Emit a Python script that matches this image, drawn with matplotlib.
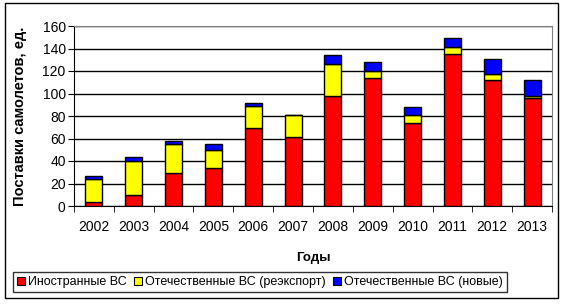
import numpy as np
import matplotlib.pyplot as plt
from matplotlib.patches import Rectangle

plt.rcParams['font.family'] = ['Liberation Sans', 'DejaVu Sans']

years = ['2002', '2003', '2004', '2005', '2006', '2007',
         '2008', '2009', '2010', '2011', '2012', '2013']
foreign = [4, 10, 29, 34, 69, 61, 98, 114, 74, 135, 112, 96]
reexport = [20, 30, 26, 16, 20, 20, 28, 6, 7, 6, 5, 2]
new = [3, 4, 3, 5, 3, 0, 8, 8, 7, 8, 14, 14]

labels = ['Иностранные ВС', 'Отечественные ВС (реэкспорт)', 'Отечественные ВС (новые)']
colors = ['#ff0000', '#ffff00', '#0000ff']

fig = plt.figure(figsize=(5.67, 3.05), dpi=100)
fig.patches.append(Rectangle((5 / 567, 1 - 298 / 305), 553 / 567, 295 / 305,
                             transform=fig.transFigure, fill=False,
                             edgecolor='black', linewidth=1))
ax = fig.add_axes([74 / 567, 1 - 206 / 305, 478 / 567, 180 / 305])

x = np.arange(len(years))
w = 0.43
bottom = np.zeros(len(years))
for vals, col, lab in zip([foreign, reexport, new], colors, labels):
    ax.bar(x, vals, w, bottom=bottom, color=col, edgecolor='black',
           linewidth=1, label=lab, zorder=3)
    bottom = bottom + np.array(vals)

ax.set_xlim(-0.5, len(years) - 0.5)
ax.set_ylim(0, 160)
ax.set_yticks(range(0, 161, 20))
ax.yaxis.grid(True, color='black', linewidth=1, zorder=0)
ax.set_xticks(x)
ax.set_xticklabels(years, fontsize=10)
ax.set_xticks(np.arange(-0.5, len(years)), minor=True)
ax.tick_params(axis='x', which='major', length=0, pad=10)
ax.tick_params(axis='x', which='minor', length=4, direction='out')
ax.tick_params(axis='y', labelsize=10, length=4, direction='out', pad=2)
for s in ['top', 'right']:
    ax.spines[s].set_color('#808080')
for s in ['left', 'bottom']:
    ax.spines[s].set_color('black')

ax.set_xlabel('Годы', fontsize=9.5, fontweight='bold', labelpad=13)
ax.set_ylabel('Поставки самолетов, ед.', fontsize=10.5, fontweight='bold', labelpad=11)

handles = [Rectangle((0, 0), 1, 1, facecolor=c, edgecolor='black', linewidth=0.8)
           for c in colors]
leg = fig.legend(handles, labels, loc='center left',
                 bbox_to_anchor=(13 / 567, 1 - 282 / 305), ncol=3,
                 fontsize=9, frameon=True, fancybox=False, edgecolor='black',
                 handlelength=0.6, handleheight=0.6, handletextpad=0.25,
                 columnspacing=0.6, borderpad=0.35, borderaxespad=0)
leg.get_frame().set_linewidth(1)

fig.savefig('out.png', dpi=100)
